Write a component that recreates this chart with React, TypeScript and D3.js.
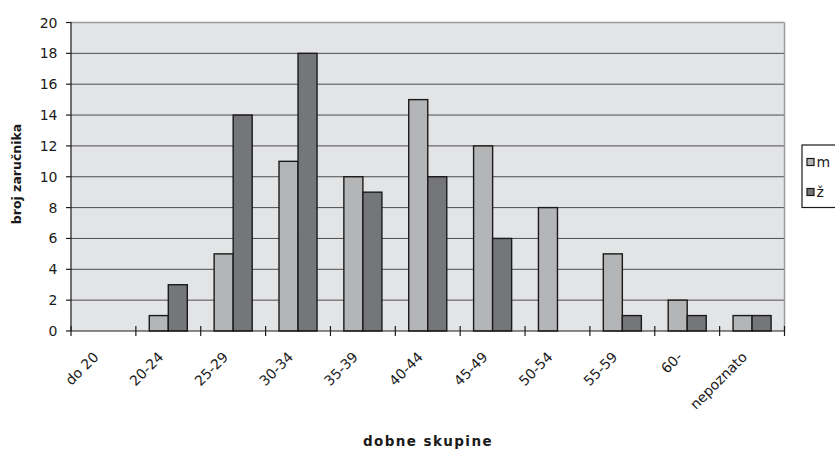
import React from "react";
import * as d3 from "d3";

const categories = ["do 20", "20-24", "25-29", "30-34", "35-39", "40-44", "45-49", "50-54", "55-59", "60-", "nepoznato"];
const seriesNames = ["m", "ž"];
const valuesM = [0, 1, 5, 11, 10, 15, 12, 8, 5, 2, 1];
const valuesZ = [0, 3, 14, 18, 9, 10, 6, 0, 1, 1, 1];
const yTicks = [0, 2, 4, 6, 8, 10, 12, 14, 16, 18, 20];
const seriesColors = ["#b4b5b7", "#75767a"];

const W = 835;
const H = 449;
const left = 71;
const right = 784.5;
const top = 22.5;
const bottom = 331;

export default function App() {
  const x = d3.scaleBand<string>().domain(categories).range([left, right]).paddingInner(0).paddingOuter(0);
  const y = d3.scaleLinear().domain([0, 20]).range([bottom, top]);
  const inner = d3.scaleBand<string>().domain(seriesNames).range([0, x.bandwidth()]).paddingInner(0).paddingOuter(0.705);
  const series = [valuesM, valuesZ];
  const font = "'DejaVu Sans', Arial, sans-serif";
  const boundaries = d3.range(categories.length + 1).map((i) => left + i * x.step());

  return (
    <svg width={W} height={H} style={{ position: "absolute", left: 0, top: 0 }} fontFamily={font}>
      <rect x={0} y={0} width={W} height={H} fill="#ffffff" />
      <rect x={left} y={top} width={right - left} height={bottom - top} fill="#e3e4e6" />
      {yTicks.filter((t) => t > 0 && t < 20).map((t) => (
        <line key={"g" + t} x1={left} x2={right} y1={y(t)} y2={y(t)} stroke="#4d4d4d" strokeWidth={1} />
      ))}
      <line x1={left} x2={right} y1={top} y2={top} stroke="#9a9a9a" strokeWidth={1.5} />
      <line x1={right} x2={right} y1={top} y2={bottom} stroke="#9a9a9a" strokeWidth={1.5} />
      {categories.map((c, i) => (
        <g key={c}>
          {series.map((vals, s) =>
            vals[i] > 0 ? (
              <rect
                key={s}
                x={(x(c) as number) + (inner(seriesNames[s]) as number)}
                y={y(vals[i])}
                width={inner.bandwidth()}
                height={bottom - y(vals[i])}
                fill={seriesColors[s]}
                stroke="#1a1a1a"
                strokeWidth={1.4}
              />
            ) : null
          )}
        </g>
      ))}
      {/* axes */}
      <line x1={left} x2={left} y1={top - 0.5} y2={bottom} stroke="#1a1a1a" strokeWidth={1.2} />
      <line x1={left} x2={right} y1={bottom} y2={bottom} stroke="#1a1a1a" strokeWidth={1.2} />
      {yTicks.map((t) => (
        <g key={"yt" + t}>
          <line x1={left - 5} x2={left} y1={y(t)} y2={y(t)} stroke="#1a1a1a" strokeWidth={1.2} />
          <text x={57.5} y={y(t)} dy="0.36em" textAnchor="end" fontSize={14} fill="#1a1a1a">
            {t}
          </text>
        </g>
      ))}
      {boundaries.map((bx, i) => (
        <line key={"xt" + i} x1={bx} x2={bx} y1={bottom - 5} y2={bottom + 5} stroke="#1a1a1a" strokeWidth={1.2} />
      ))}
      {categories.map((c) => {
        const cx = (x(c) as number) + x.bandwidth() / 2 - 4;
        const cy = 358;
        return (
          <text key={"xl" + c} x={cx} y={cy} textAnchor="end" fontSize={14} fill="#1a1a1a" transform={`rotate(-45, ${cx}, ${cy})`}>
            {c}
          </text>
        );
      })}
      <text x={428} y={446} textAnchor="middle" fontSize={13.5} fontWeight="bold" letterSpacing={1.4} fill="#1a1a1a">
        dobne skupine
      </text>
      <text x={0} y={0} textAnchor="middle" fontSize={12.5} fontWeight="bold" fill="#1a1a1a" transform={`translate(21, 174) rotate(-90)`}>
        broj zaručnika
      </text>
      {/* legend */}
      <rect x={802} y={145} width={60} height={62.5} fill="#ffffff" stroke="#1a1a1a" strokeWidth={1.2} />
      {seriesNames.map((s, i) => {
        const ly = 162 + i * 30;
        return (
          <g key={"lg" + s}>
            <rect x={807} y={ly - 3.5} width={7} height={7} fill={seriesColors[i]} stroke="#1a1a1a" strokeWidth={1.2} />
            <text x={816.5} y={ly} dy="0.36em" fontSize={14} fill="#1a1a1a">
              {s}
            </text>
          </g>
        );
      })}
    </svg>
  );
}
